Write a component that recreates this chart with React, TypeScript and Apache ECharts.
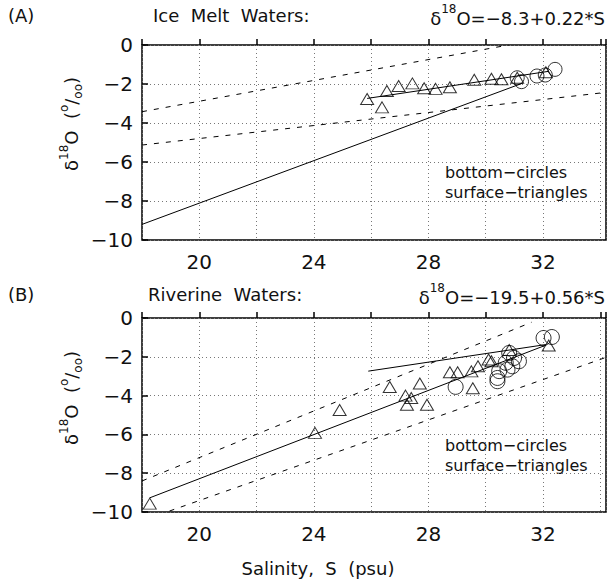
import React, { useEffect, useRef } from "react";
import * as echarts from "echarts";

const X_MIN = 18;
const X_MAX = 34.2;
const Y_MIN = -10;
const Y_MAX = 0;
const xLabelValues = [20, 24, 28, 32];

// Panel A – Ice melt waters
const surfaceA_S = [25.86, 26.38, 26.55, 26.96, 27.44, 27.85, 28.25, 28.75, 29.6, 30.2, 30.55, 31.1, 32.1];
const surfaceA_d = [-2.77, -3.2, -2.36, -2.1, -1.97, -2.22, -2.25, -2.17, -1.78, -1.73, -1.76, -1.68, -1.4];
const bottomA_S = [31.1, 31.25, 31.79, 32.08, 32.42];
const bottomA_d = [-1.68, -1.88, -1.59, -1.54, -1.25];
const iceLineA_S = [25.86, 32.2];
const iceLineA_d = [-2.74, -1.35];
const mainLineA_S = [18, 31.3];
const mainLineA_d = [-9.2, -1.95];
const upperDashA_S = [18, 30.8];
const upperDashA_d = [-3.42, 0];
const lowerDashA_S = [18, 34.2];
const lowerDashA_d = [-5.13, -2.43];

// Panel B – Riverine waters
const surfaceB_S = [18.27, 24.04, 24.9, 26.65, 27.2, 27.4, 27.25, 27.7, 27.95, 28.75, 29.02, 29.55, 29.5, 29.73, 30.1, 30.2, 30.82, 32.2];
const surfaceB_d = [-9.57, -5.92, -4.74, -3.56, -4.0, -4.12, -4.47, -3.38, -4.47, -2.8, -2.8, -3.62, -2.75, -2.49, -2.14, -2.23, -1.65, -1.42];
const bottomB_S = [28.95, 30.41, 30.41, 30.47, 30.7, 30.76, 30.82, 30.93, 30.99, 31.16, 32.02, 32.31];
const bottomB_d = [-3.55, -3.09, -3.26, -2.74, -2.31, -2.66, -1.8, -2.49, -2.06, -2.23, -1.03, -0.98];
const iceLineB_S = [25.9, 32.1];
const iceLineB_d = [-2.74, -1.37];
const mainLineB_S = [18.27, 32.1];
const mainLineB_d = [-9.27, -1.4];
const upperDashB_S = [18, 31.6];
const upperDashB_d = [-8.4, -0.22];
const lowerDashB_S = [18.96, 34.2];
const lowerDashB_d = [-9.95, -2.03];

const pairs = (xs: number[], ys: number[]) => xs.map((x, i) => [x, ys[i]]);

const FONT = "DejaVu Sans";
const INK = "#111";

export default function App() {
  const ref = useRef<HTMLDivElement>(null);

  useEffect(() => {
    if (!ref.current) return;
    const chart = echarts.init(ref.current, null, { renderer: "svg" });

    const grids = [
      { left: 142, top: 45, right: -5, height: 195 },
      { left: 142, top: 318, right: -5, height: 194 },
    ];

    const mkX = (gi: number) => ({
      type: "value",
      gridIndex: gi,
      min: X_MIN,
      max: X_MAX,
      interval: 2,
      axisLine: { show: false },
      axisTick: { show: true, inside: true, length: 6, lineStyle: { color: "#000", width: 1.5 } },
      axisLabel: {
        margin: 12,
        fontFamily: FONT,
        fontSize: 20,
        color: INK,
        formatter: (v: number) => (xLabelValues.indexOf(Math.round(v * 100) / 100) >= 0 ? String(v) : ""),
      },
      splitLine: { show: true, lineStyle: { color: "#777", type: [1, 3], width: 1 } },
    });
    const mkY = (gi: number) => ({
      type: "value",
      gridIndex: gi,
      min: Y_MIN,
      max: Y_MAX,
      interval: 2,
      axisLine: { show: false },
      axisTick: { show: true, inside: true, length: 6, lineStyle: { color: "#000", width: 1.5 } },
      axisLabel: {
        margin: 9,
        fontFamily: FONT,
        fontSize: 20,
        color: INK,
        formatter: (v: number) => (v === 0 ? "0" : "\u2212" + Math.abs(v)),
      },
      splitLine: { show: true, lineStyle: { color: "#777", type: [1, 3], width: 1 } },
    });

    const lineSeries = (gi: number, xs: number[], ys: number[], dashed: boolean) => ({
      type: "line",
      xAxisIndex: gi,
      yAxisIndex: gi,
      data: pairs(xs, ys),
      symbol: "none",
      silent: true,
      clip: true,
      lineStyle: { color: "#000", width: 1, type: dashed ? [5, 7] : "solid" },
      z: 3,
    });
    const scatter = (gi: number, xs: number[], ys: number[], shape: string, size: number) => ({
      type: "scatter",
      xAxisIndex: gi,
      yAxisIndex: gi,
      data: pairs(xs, ys),
      symbol: shape,
      symbolSize: shape === "triangle" ? [13, 11] : size,
      silent: true,
      itemStyle: { color: "transparent", borderColor: "#000", borderWidth: 1 },
      z: 4,
    });

    const richTitle = {
      n: { fontFamily: FONT, fontSize: 18, fill: INK, lineHeight: 24, verticalAlign: "bottom" },
      sup: { fontFamily: FONT, fontSize: 12, fill: INK, lineHeight: 24, verticalAlign: "top" },
    };

    const ylabelText = "{n|\u03b4}{sup|18}{n|O  (}{sup|o}{n|/}{sub|oo}{n|)}";
    const richY = {
      n: { fontFamily: FONT, fontSize: 18, fill: INK, lineHeight: 26, verticalAlign: "middle" },
      sup: { fontFamily: FONT, fontSize: 12, fill: INK, lineHeight: 26, verticalAlign: "top" },
      sub: { fontFamily: FONT, fontSize: 12, fill: INK, lineHeight: 26, verticalAlign: "bottom" },
    };

    const txt = (x: number, y: number, text: string, extra: any = {}) => ({
      type: "text",
      x,
      y,
      style: { text, fontFamily: FONT, fontSize: 18, fill: INK, ...extra },
      silent: true,
    });

    chart.setOption({
      animation: false,
      backgroundColor: "#fff",
      grid: grids.map((g) => ({ ...g, show: true, borderColor: "#000", borderWidth: 1.5, backgroundColor: "transparent" })),
      xAxis: [mkX(0), mkX(1)],
      yAxis: [mkY(0), mkY(1)],
      series: [
        lineSeries(0, upperDashA_S, upperDashA_d, true),
        lineSeries(0, lowerDashA_S, lowerDashA_d, true),
        lineSeries(0, mainLineA_S, mainLineA_d, false),
        lineSeries(0, iceLineA_S, iceLineA_d, false),
        scatter(0, surfaceA_S, surfaceA_d, "triangle", 13),
        scatter(0, bottomA_S, bottomA_d, "circle", 14),
        lineSeries(1, upperDashB_S, upperDashB_d, true),
        lineSeries(1, lowerDashB_S, lowerDashB_d, true),
        lineSeries(1, mainLineB_S, mainLineB_d, false),
        lineSeries(1, iceLineB_S, iceLineB_d, false),
        scatter(1, surfaceB_S, surfaceB_d, "triangle", 13),
        scatter(1, bottomB_S, bottomB_d, "circle", 15),
      ],
      graphic: [
        txt(8, 15, "(A)", { verticalAlign: "middle" }),
        txt(153, 15, "Ice  Melt  Waters:", { verticalAlign: "middle" }),
        {
          type: "text",
          x: 605,
          y: 15,
          silent: true,
          style: { text: "{n|\u03b4}{sup|18}{n|O=\u22128.3+0.22*S}", rich: richTitle, align: "right", verticalAlign: "middle" },
        },
        txt(8, 294, "(B)", { verticalAlign: "middle" }),
        txt(148, 294, "Riverine  Waters:", { verticalAlign: "middle" }),
        {
          type: "text",
          x: 605,
          y: 294,
          silent: true,
          style: { text: "{n|\u03b4}{sup|18}{n|O=\u221219.5+0.56*S}", rich: richTitle, align: "right", verticalAlign: "middle" },
        },
        {
          type: "text",
          x: 71,
          y: 124,
          rotation: Math.PI / 2,
          silent: true,
          style: { text: ylabelText, rich: richY, align: "center", verticalAlign: "middle" },
        },
        {
          type: "text",
          x: 71,
          y: 398,
          rotation: Math.PI / 2,
          silent: true,
          style: { text: ylabelText, rich: richY, align: "center", verticalAlign: "middle" },
        },
        txt(445, 172, "bottom\u2212circles", { fontSize: 16, verticalAlign: "middle" }),
        txt(445, 192, "surface\u2212triangles", { fontSize: 16, verticalAlign: "middle" }),
        txt(445, 445, "bottom\u2212circles", { fontSize: 16, verticalAlign: "middle" }),
        txt(445, 465, "surface\u2212triangles", { fontSize: 16, verticalAlign: "middle" }),
        txt(318, 568, "Salinity,  S  (psu)", { align: "center", verticalAlign: "middle" }),
      ],
    });

    return () => chart.dispose();
  }, []);

  return (
    <div
      ref={ref}
      style={{ position: "fixed", left: 0, top: 0, width: 609, height: 584, background: "#fff" }}
    />
  );
}
